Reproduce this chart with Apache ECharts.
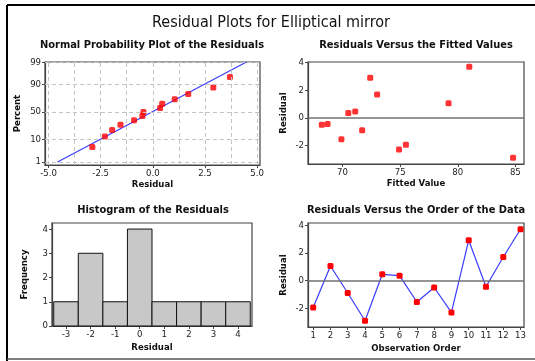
<!DOCTYPE html>
<html>
<head>
<meta charset="utf-8">
<script src="https://cdn.jsdelivr.net/npm/echarts@6/dist/echarts.min.js"></script>
<style>
  html, body { margin: 0; padding: 0; background: #fff; }
  #chart { width: 535px; height: 361px; }
</style>
</head>
<body>
<div id="chart"></div>
<script>
// Residuals in observation order and the matching fitted values
const residuals = [-1.95, 1.05, -0.9, -2.9, 0.45, 0.35, -1.55, -0.5, -2.3, 2.9, -0.45, 1.7, 3.7];
const fittedValues = [75.5, 79.2, 71.7, 84.8, 71.1, 70.5, 69.9, 68.2, 74.9, 72.4, 68.7, 73.0, 81.0];
const observationOrder = [1, 2, 3, 4, 5, 6, 7, 8, 9, 10, 11, 12, 13];

// Normal probability plot: plotting percents of the ordered residuals and the fit line
const probPercents = [5.2, 12.7, 20.1, 27.6, 35.1, 42.5, 50, 57.5, 64.9, 72.4, 79.9, 87.3, 94.8];
const fitLineResidual = [-4.57, 4.49];
const fitLinePercent = [1, 99];

// Histogram bins
const binCenters = [-3, -2, -1, 0, 1, 2, 3, 4];
const binCounts = [1, 3, 1, 4, 1, 1, 1, 1];
const binWidth = 1;

// Tick labels
const percentTicks = [1, 10, 50, 90, 99];
const percentGrid = [1, 10, 50, 90, 99];
const probResidualTicks = [-5, -2.5, 0, 2.5, 5];
const probResidualGrid = [-5, -3.75, -2.5, -1.25, 0, 1.25, 2.5, 3.75, 5];
const fittedTicks = [70, 75, 80, 85];
const residualTicks = [-2, 0, 2, 4];
const frequencyTicks = [0, 1, 2, 3, 4];

// Inverse standard normal CDF (Acklam), used for the probability scale
function normInv(p) {
  const a = [-3.969683028665376e+01, 2.209460984245205e+02, -2.759285104469687e+02, 1.383577518672690e+02, -3.066479806614716e+01, 2.506628277459239e+00];
  const b = [-5.447609879822406e+01, 1.615858368580409e+02, -1.556989798598866e+02, 6.680131188771972e+01, -1.328068155288572e+01];
  const c = [-7.784894002430293e-03, -3.223964580411365e-01, -2.400758277161838e+00, -2.549732539343734e+00, 4.374664141464968e+00, 2.938163982698783e+00];
  const d = [7.784695709041462e-03, 3.224671290700398e-01, 2.445134137142996e+00, 3.754408661907416e+00];
  const pl = 0.02425, ph = 1 - pl;
  let q, r;
  if (p < pl) {
    q = Math.sqrt(-2 * Math.log(p));
    return (((((c[0]*q+c[1])*q+c[2])*q+c[3])*q+c[4])*q+c[5]) / ((((d[0]*q+d[1])*q+d[2])*q+d[3])*q+1);
  }
  if (p <= ph) {
    q = p - 0.5; r = q * q;
    return (((((a[0]*r+a[1])*r+a[2])*r+a[3])*r+a[4])*r+a[5])*q / (((((b[0]*r+b[1])*r+b[2])*r+b[3])*r+b[4])*r+1);
  }
  q = Math.sqrt(-2 * Math.log(1 - p));
  return -(((((c[0]*q+c[1])*q+c[2])*q+c[3])*q+c[4])*q+c[5]) / ((((d[0]*q+d[1])*q+d[2])*q+d[3])*q+1);
}
const pz = pct => normInv(pct / 100);

const FONT = '"DejaVu Sans Condensed", "DejaVu Sans"';
const AXIS_COLOR = '#444';
const labelStyle = { fontFamily: FONT, fontSize: 9.5, color: '#222' };
const nameStyle = { fontFamily: FONT, fontSize: 9.5, fontWeight: 'bold', color: '#111' };

function frameGrid(left, top, width, height) {
  return { left, top, width, height, show: true, borderColor: AXIS_COLOR, borderWidth: 1.2, backgroundColor: '#fff' };
}
function valAxis(gridIndex, min, max, ticks, extra) {
  return Object.assign({
    type: 'value', gridIndex, min, max,
    axisLine: { show: true, onZero: false, lineStyle: { color: AXIS_COLOR, width: 1.2 } },
    axisTick: { show: true, length: 3, inside: false, customValues: ticks, lineStyle: { color: AXIS_COLOR } },
    axisLabel: Object.assign({ customValues: ticks, margin: 4 }, labelStyle),
    splitLine: { show: false },
    nameLocation: 'middle',
    nameTextStyle: nameStyle
  }, extra || {});
}

const sortedResiduals = residuals.slice().sort((a, b) => a - b);
const probPoints = sortedResiduals.map((r, i) => [r, pz(probPercents[i])]);
const percentZ = percentTicks.map(pz);

const gridLines = []
  .concat(probResidualGrid.map(v => ({ xAxis: v })))
  .concat(percentGrid.map(p => ({ yAxis: pz(p) })));

const subTitle = (x, y, text) => ({
  type: 'text', x, y,
  style: { text, fontFamily: FONT, fontSize: 11, fontWeight: 'bold', fill: '#111', textAlign: 'center', textVerticalAlign: 'middle' }
});

const option = {
  animation: false,
  backgroundColor: '#fff',
  grid: [
    frameGrid(45, 62, 215, 103),
    frameGrid(308, 62, 216, 102),
    frameGrid(52, 223, 200, 103),
    frameGrid(308, 223, 216, 104)
  ],
  xAxis: [
    valAxis(0, -5.17, 5.14, probResidualTicks, {
      name: 'Residual', nameGap: 14,
      axisLabel: Object.assign({ customValues: probResidualTicks, margin: 4, formatter: v => v.toFixed(1) }, labelStyle)
    }),
    valAxis(1, 67.0, 85.75, fittedTicks, { name: 'Fitted Value', nameGap: 15 }),
    valAxis(2, -3.57, 4.57, binCenters, { name: 'Residual', nameGap: 17 }),
    valAxis(3, 0.7, 13.2, observationOrder, { name: 'Observation Order', nameGap: 17 })
  ],
  yAxis: [
    valAxis(0, -2.47, 2.33, percentZ, {
      name: 'Percent', nameGap: 22,
      axisLabel: Object.assign({
        customValues: percentZ, margin: 4,
        formatter: v => {
          let best = 0;
          percentZ.forEach((z, i) => { if (Math.abs(z - v) < Math.abs(percentZ[best] - v)) best = i; });
          return String(percentTicks[best]);
        }
      }, labelStyle)
    }),
    valAxis(1, -3.35, 4.05, residualTicks, { name: 'Residual', nameGap: 19 }),
    valAxis(2, 0, 4.25, frequencyTicks, { name: 'Frequency', nameGap: 22 }),
    valAxis(3, -3.35, 4.15, residualTicks, { name: 'Residual', nameGap: 19 })
  ],
  series: [
    // reference grid of the probability plot
    {
      type: 'line', xAxisIndex: 0, yAxisIndex: 0, data: [], z: 1, silent: true,
      markLine: {
        silent: true, symbol: 'none', label: { show: false },
        lineStyle: { color: '#c4c4c4', type: [4, 3], width: 1 },
        data: gridLines
      }
    },
    // fitted normal line
    {
      type: 'line', xAxisIndex: 0, yAxisIndex: 0, z: 2, symbol: 'none',
      lineStyle: { color: '#3b3bff', width: 1.2 },
      data: fitLineResidual.map((r, i) => [r, pz(fitLinePercent[i])])
    },
    {
      type: 'scatter', xAxisIndex: 0, yAxisIndex: 0, z: 3, symbol: 'roundRect', symbolSize: 6,
      itemStyle: { color: '#ff0000' },
      data: probPoints
    },
    // residuals versus fits
    {
      type: 'scatter', xAxisIndex: 1, yAxisIndex: 1, z: 3, symbol: 'roundRect', symbolSize: 6,
      itemStyle: { color: '#ff0000' },
      data: fittedValues.map((f, i) => [f, residuals[i]]),
      markLine: {
        silent: true, symbol: 'none', label: { show: false },
        lineStyle: { color: '#707070', type: 'solid', width: 1.5 },
        data: [{ yAxis: 0 }]
      }
    },
    // histogram
    {
      type: 'custom', xAxisIndex: 2, yAxisIndex: 2, z: 2,
      data: binCenters.map((c, i) => [c, binCounts[i]]),
      renderItem: (params, api) => {
        const c = api.value(0), h = api.value(1);
        const p0 = api.coord([c - binWidth / 2, h]);
        const p1 = api.coord([c + binWidth / 2, 0]);
        return {
          type: 'rect',
          shape: { x: p0[0], y: p0[1], width: p1[0] - p0[0], height: p1[1] - p0[1] },
          style: { fill: '#c8c8c8', stroke: '#111', lineWidth: 1 }
        };
      }
    },
    // residuals versus order
    {
      type: 'line', xAxisIndex: 3, yAxisIndex: 3, z: 3,
      symbol: 'roundRect', symbolSize: 6, showAllSymbol: true,
      lineStyle: { color: '#3b3bff', width: 1.2 },
      itemStyle: { color: '#ff0000' },
      data: observationOrder.map((o, i) => [o, residuals[i]]),
      markLine: {
        silent: true, symbol: 'none', label: { show: false },
        lineStyle: { color: '#707070', type: 'solid', width: 1.5 },
        data: [{ yAxis: 0 }]
      }
    }
  ],
  graphic: [
    { type: 'line', shape: { x1: 7, y1: 5, x2: 535, y2: 5 }, style: { stroke: '#000', lineWidth: 2 } },
    { type: 'line', shape: { x1: 7, y1: 5, x2: 7, y2: 361 }, style: { stroke: '#000', lineWidth: 2 } },
    { type: 'line', shape: { x1: 7, y1: 359, x2: 535, y2: 359 }, style: { stroke: '#555', lineWidth: 1.5 } },
    { type: 'text', x: 271, y: 23, style: { text: 'Residual Plots for Elliptical mirror', fontFamily: FONT, fontSize: 16, fill: '#111', textAlign: 'center', textVerticalAlign: 'middle' } },
    subTitle(152, 45, 'Normal Probability Plot of the Residuals'),
    subTitle(416, 45, 'Residuals Versus the Fitted Values'),
    subTitle(153, 210, 'Histogram of the Residuals'),
    subTitle(416, 210, 'Residuals Versus the Order of the Data')
  ]
};

const chart = echarts.init(document.getElementById('chart'), null, { renderer: 'canvas' });
chart.setOption(option);
</script>
</body>
</html>
